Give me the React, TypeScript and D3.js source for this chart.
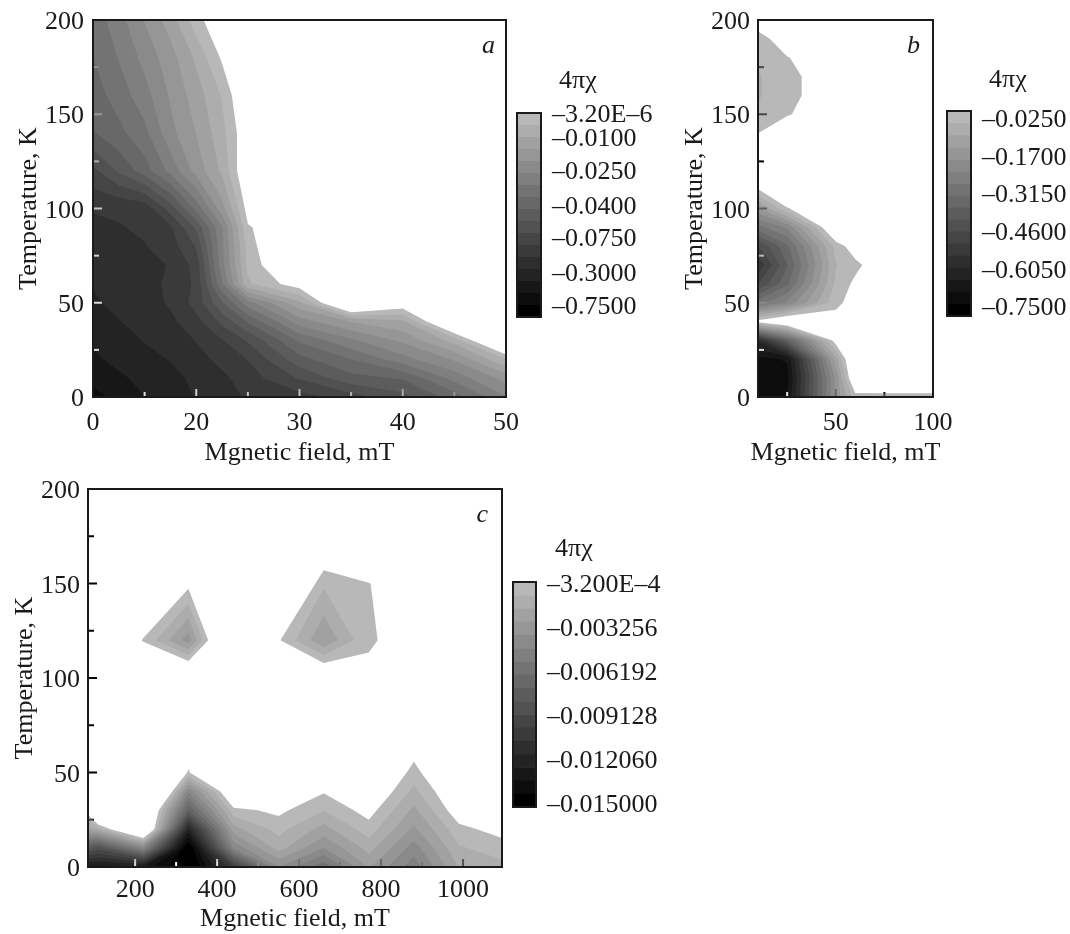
import * as d3 from "d3";

const FONT = "'Liberation Serif', 'Times New Roman', Times, serif";
const FS = 26;

// ---------- panel a : 4πχ read from the grey levels ----------
const aFields = [0, 5, 10, 15, 20, 22.5, 25, 30, 35, 40, 45, 50];
const aTemps = [200, 180, 160, 140, 120, 100, 90, 80, 70, 60, 50, 40, 30, 20, 10, 0];
const aChi = [
  [-0.0348, -0.0283, -0.0206, -0.0128, -0.002, 0.005, 0.005, 0.005, 0.005, 0.005, 0.005, 0.005],
  [-0.0366, -0.0311, -0.0246, -0.0177, -0.009, 0.0008, 0.005, 0.005, 0.005, 0.005, 0.005, 0.005],
  [-0.039, -0.0343, -0.0283, -0.0202, -0.0128, -0.0045, 0.0073, 0.005, 0.005, 0.005, 0.005, 0.005],
  [-0.0457, -0.038, -0.0329, -0.0226, -0.0152, -0.0067, 0.0049, 0.005, 0.005, 0.005, 0.005, 0.005],
  [-0.0737, -0.0551, -0.039, -0.0297, -0.0187, -0.009, 0.0065, 0.005, 0.005, 0.005, 0.005, 0.005],
  [-0.194, -0.194, -0.179, -0.0645, -0.0348, -0.0177, 0.0023, 0.005, 0.005, 0.005, 0.005, 0.005],
  [-0.234, -0.207, -0.194, -0.138, -0.0551, -0.0265, -0.0005, 0.005, 0.005, 0.005, 0.005, 0.005],
  [-0.249, -0.213, -0.207, -0.165, -0.0691, -0.0274, -0.0027, 0.0124, 0.005, 0.005, 0.005, 0.005],
  [-0.255, -0.234, -0.221, -0.2, -0.096, -0.0283, -0.0036, 0.0098, 0.005, 0.005, 0.005, 0.005],
  [-0.277, -0.249, -0.221, -0.194, -0.1096, -0.032, -0.0058, 0.0034, 0.005, 0.005, 0.005, 0.005],
  [-0.29, -0.263, -0.234, -0.194, -0.096, -0.0457, -0.0283, -0.0113, 0.015, 0.005, 0.005, 0.005],
  [-0.339, -0.284, -0.249, -0.221, -0.152, -0.0668, -0.0431, -0.0236, -0.0152, -0.0113, 0.013, 0.005],
  [-0.397, -0.324, -0.277, -0.249, -0.2, -0.131, -0.0691, -0.0357, -0.0274, -0.0197, -0.0081, 0.015],
  [-0.457, -0.368, -0.308, -0.277, -0.234, -0.179, -0.123, -0.049, -0.0366, -0.0283, -0.0202, -0.005],
  [-0.543, -0.457, -0.368, -0.308, -0.263, -0.221, -0.165, -0.0691, -0.049, -0.0431, -0.0297, -0.0187],
  [-0.632, -0.543, -0.426, -0.339, -0.277, -0.234, -0.194, -0.158, -0.0824, -0.062, -0.039, -0.0265],
];
const aLevels = [-3.2e-6, -0.01, -0.025, -0.04, -0.075, -0.3, -0.75];
const aLevelPos = [0, 0.125, 0.297, 0.479, 0.646, 0.828, 1];
const aLevelText = ["–3.20E–6", "–0.0100", "–0.0250", "–0.0400", "–0.0750", "–0.3000", "–0.7500"];
const aXLabels = [0, 20, 30, 40, 50];
const aXMajor = [20, 30, 40];
const aXMinor = [10, 25, 35, 45];

// ---------- panel b ----------
const bFields = [10, 25, 50, 60, 75, 100];
const bTemps = [200, 190, 180, 170, 160, 150, 140, 130, 120, 110, 100, 90, 80, 70, 60, 50, 40, 30, 20, 10, 0];
const bChi = [
  [0, 0, 0, 0, 0, 0],
  [-0.042, 0, 0, 0, 0, 0],
  [-0.054, -0.0266, 0, 0, 0, 0],
  [-0.076, -0.0357, 0, 0, 0, 0],
  [-0.076, -0.0357, 0, 0, 0, 0],
  [-0.058, -0.0278, 0, 0, 0, 0],
  [-0.0255, 0, 0, 0, 0, 0],
  [0, 0, 0, 0, 0, 0],
  [0, 0, 0, 0, 0, 0],
  [-0.026, 0, 0, 0, 0, 0],
  [-0.17, -0.0265, 0, 0, 0, 0],
  [-0.315, -0.243, 0.06, 0, 0, 0],
  [-0.48, -0.351, -0.054, 0.006, 0, 0],
  [-0.56, -0.39, -0.0736, -0.0395, 0.02, 0],
  [-0.48, -0.351, -0.061, -0.0134, 0, 0],
  [-0.315, -0.243, -0.0395, 0, 0, 0],
  [-0.003, 0.069, 0, 0, 0, 0],
  [-0.605, -0.39, 0.002, 0, 0, 0],
  [-0.72, -0.7, -0.134, 0.084, 0, 0],
  [-0.75, -0.72, -0.196, 0.055, 0.033, 0.033],
  [-0.75, -0.7, -0.196, -0.0468, -0.0395, -0.0395],
];
const bLevels = [-0.025, -0.17, -0.315, -0.46, -0.605, -0.75];
const bLevelPos = [0, 0.2, 0.4, 0.6, 0.8, 1];
const bLevelText = ["–0.0250", "–0.1700", "–0.3150", "–0.4600", "–0.6050", "–0.7500"];
const bXLabels = [50, 100];
const bXMajor = [50];
const bXMinor = [25, 75];

// ---------- panel c ----------
const cFields = [85, 110, 220, 330, 440, 550, 660, 770, 880, 990, 1100];
const cTemps = [200, 160, 150, 120, 100, 60, 50, 40, 30, 20, 10, 0];
const cChi = [
  [0, 0, 0, 0, 0, 0, 0, 0, 0, 0, 0],
  [0, 0, 0, 0, 0, 0, 0, 0, 0, 0, 0],
  [0, 0, 0, 0, 0, 0.003, -0.00107, -0.000335, 0, 0, 0],
  [0, 0, -0.000335, -0.00355, 0.0038, -0.00021, -0.00296, -0.0004, 0, 0, 0],
  [0, 0, 0, 0.0023, 0, 0, 0.0014, -0.00016, 0, 0, 0],
  [0, 0, 0, 0, 0, 0, 0, 0, 0, 0, 0],
  [0, 0, 0.002, -0.000393, 0.002, 0, 0, 0.002, -0.00076, 0.002, 0],
  [0, 0, 0.0075, -0.00472, 0.0015, 0, -0.00022, 0.001, -0.0015, 0.001, 0],
  [0.00041, 0.004, 0.0035, -0.00766, -0.000614, -0.00007, -0.0012, 0.00012, -0.00238, 0.0004, 0],
  [-0.00252, -0.00179, 0.0036, -0.0125, -0.00252, -0.000907, -0.00252, -0.00076, -0.00326, -0.000614, 0.00012],
  [-0.0084, -0.00913, -0.00472, -0.0162, -0.00472, -0.00179, -0.004, -0.00179, -0.00443, -0.00135, -0.00076],
  [-0.0135, -0.0135, -0.0135, -0.0165, -0.0106, -0.004, -0.00649, -0.00296, -0.00546, -0.00208, -0.0015],
];
const cLevels = [-3.2e-4, -0.003256, -0.006192, -0.009128, -0.01206, -0.015];
const cLevelPos = [0, 0.2, 0.4, 0.6, 0.8, 1];
const cLevelText = ["–3.200E–4", "–0.003256", "–0.006192", "–0.009128", "–0.012060", "–0.015000"];
const cXLabels = [200, 400, 600, 800, 1000];
const cXMajor = [200, 400, 600, 800, 1000];
const cXMinor = [300, 500, 700, 900];

const yLabels = [0, 50, 100, 150, 200];
const yMajor = [50, 100, 150];
const yMinor = [25, 75, 125, 175];

const THRESH = d3.range(17).map((k) => (k === 0 ? 1e-4 : k / 16));
const shade = (k: number) => {
  const g = Math.round(184 * (1 - k / 16));
  return `rgb(${g},${g},${g})`;
};

const panels = [
  {
    id: "a", letter: "a", fields: aFields, temps: aTemps, chi: aChi,
    levels: aLevels, levelPos: aLevelPos, levelText: aLevelText,
    xDomain: [0, 20, 50], xRange: [93, 196.25, 506], y0: 20, y1: 397,
    xLabels: aXLabels, xMajor: aXMajor, xMinor: aXMinor,
    bar: { x: 517, w: 24, top: 113, bottom: 317, lTop: 113, lBottom: 305, lx: 552, tx: 559, ty: 88 },
    letterX: 495, letterY: 53, yLabelX: 84, xLabelY: 430, xTitleY: 460, yTitleX: 27,
  },
  {
    id: "b", letter: "b", fields: bFields, temps: bTemps, chi: bChi,
    levels: bLevels, levelPos: bLevelPos, levelText: bLevelText,
    xDomain: [10, 100], xRange: [758, 933], y0: 20, y1: 397,
    xLabels: bXLabels, xMajor: bXMajor, xMinor: bXMinor,
    bar: { x: 947, w: 24, top: 111, bottom: 316, lTop: 118, lBottom: 306, lx: 982, tx: 989, ty: 87 },
    letterX: 920, letterY: 53, yLabelX: 750, xLabelY: 430, xTitleY: 460, yTitleX: 693,
  },
  {
    id: "c", letter: "c", fields: cFields, temps: cTemps, chi: cChi,
    levels: cLevels, levelPos: cLevelPos, levelText: cLevelText,
    xDomain: [85, 1095], xRange: [88, 502], y0: 489, y1: 867,
    xLabels: cXLabels, xMajor: cXMajor, xMinor: cXMinor,
    bar: { x: 513, w: 23, top: 582, bottom: 807, lTop: 583, lBottom: 803, lx: 547, tx: 555, ty: 556 },
    letterX: 488, letterY: 522, yLabelX: 80, xLabelY: 897, xTitleY: 926, yTitleX: 23,
  },
];

function Panel({ p }: { p: any }) {
  const x = d3.scaleLinear().domain(p.xDomain).range(p.xRange);
  const y = d3.scaleLinear().domain([0, 200]).range([p.y1, p.y0]);
  const toT = d3.scaleLinear().domain(p.levels).range(p.levelPos);
  const n = p.fields.length;
  const m = p.temps.length;
  // grid index -> field / temperature (piecewise, grid is not uniform)
  const colF = d3.scaleLinear().domain(d3.range(n)).range(p.fields);
  const rowT = d3.scaleLinear().domain(d3.range(m)).range(p.temps);
  const grid = (p.chi as number[][]).flat().map((v) => toT(v));
  const bands = d3.contours().size([n, m]).thresholds(THRESH)(grid);
  const path = d3.geoPath(
    d3.geoTransform({
      point(gx: number, gy: number) {
        (this as any).stream.point(x(colF(gx - 0.5)), y(rowT(gy - 0.5)));
      },
    })
  );
  const x0 = p.xRange[0];
  const x1 = p.xRange[p.xRange.length - 1];
  const b = p.bar;
  const step = (b.bottom - b.top) / 17;
  const ly = d3.scaleLinear().domain([0, 1]).range([b.lTop, b.lBottom]);
  const cx = (x0 + x1) / 2;
  const cy = (p.y0 + p.y1) / 2;

  return (
    <g>
      <clipPath id={`clip-${p.id}`}>
        <rect x={x0} y={p.y0} width={x1 - x0} height={p.y1 - p.y0} />
      </clipPath>
      <g clipPath={`url(#clip-${p.id})`}>
        {bands.map((c, k) => (
          <path key={k} d={path(c as any) || ""} fill={shade(k)} />
        ))}
      </g>

      {/* inward ticks */}
      <g stroke="#fff" strokeWidth={2} style={{ mixBlendMode: "difference" }}>
        {yMajor.map((t) => (
          <line key={`ym${t}`} x1={x0 + 1} x2={x0 + 9} y1={y(t)} y2={y(t)} />
        ))}
        {yMinor.map((t) => (
          <line key={`yn${t}`} x1={x0 + 1} x2={x0 + 6} y1={y(t)} y2={y(t)} />
        ))}
        {p.xMajor.map((f: number) => (
          <line key={`xm${f}`} x1={x(f)} x2={x(f)} y1={p.y1 - 1} y2={p.y1 - 8} />
        ))}
        {p.xMinor.map((f: number) => (
          <line key={`xn${f}`} x1={x(f)} x2={x(f)} y1={p.y1 - 1} y2={p.y1 - 5} />
        ))}
      </g>

      <rect x={x0} y={p.y0} width={x1 - x0} height={p.y1 - p.y0} fill="none" stroke="#1a1a1a" strokeWidth={2} />

      {yLabels.map((t) => (
        <text key={`yl${t}`} x={p.yLabelX} y={y(t)} dy="0.35em" textAnchor="end">
          {t}
        </text>
      ))}
      {p.xLabels.map((f: number) => (
        <text key={`xl${f}`} x={x(f)} y={p.xLabelY} textAnchor="middle">
          {f}
        </text>
      ))}
      <text x={cx} y={p.xTitleY} textAnchor="middle">
        Mgnetic field, mT
      </text>
      <text transform={`translate(${p.yTitleX},${cy}) rotate(-90)`} textAnchor="middle" dy="0.35em">
        Temperature, K
      </text>
      <text x={p.letterX} y={p.letterY} textAnchor="end" fontStyle="italic">
        {p.letter}
      </text>

      {/* colour bar */}
      {d3.range(17).map((k) => (
        <rect key={`cb${k}`} x={b.x} y={b.top + k * step} width={b.w} height={step + 0.5} fill={shade(k)} />
      ))}
      <rect x={b.x} y={b.top} width={b.w} height={b.bottom - b.top} fill="none" stroke="#1a1a1a" strokeWidth={2} />
      <text x={b.tx} y={b.ty}>4πχ</text>
      {p.levels.map((v: number, i: number) => (
        <text key={`lv${i}`} x={b.lx} y={ly(toT(v))} dy="0.35em">
          {p.levelText[i]}
        </text>
      ))}
    </g>
  );
}

export default function App() {
  return (
    <svg
      width={1070}
      height={934}
      style={{ position: "absolute", left: 0, top: 0, background: "#fff" }}
      fontFamily={FONT}
      fontSize={FS}
      fill="#1a1a1a"
    >
      <rect width={1070} height={934} fill="#fff" />
      {panels.map((p) => (
        <Panel key={p.id} p={p} />
      ))}
    </svg>
  );
}
